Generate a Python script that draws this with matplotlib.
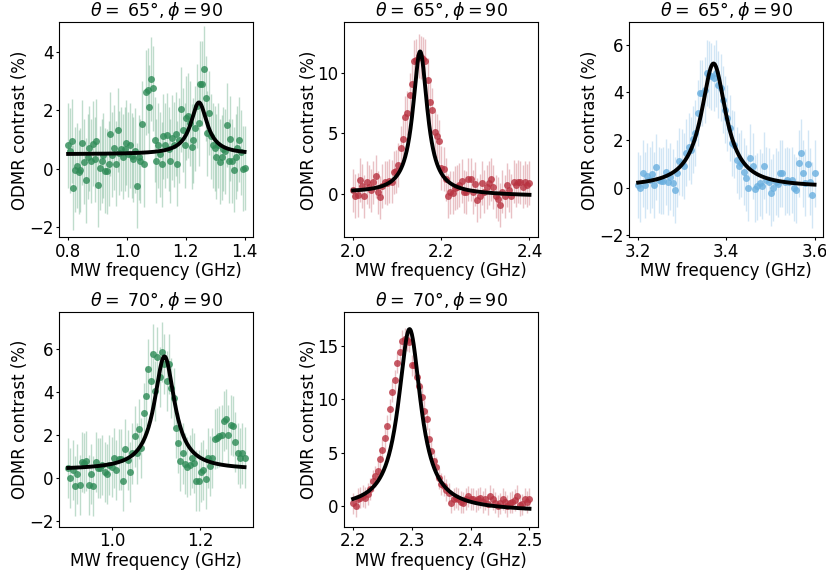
import numpy as np
import matplotlib
matplotlib.use("Agg")
import matplotlib.pyplot as plt

# ODMR spectra, contrast in %, frequency sweeps in GHz
sweeps = [(0.8, 1.4), (2.0, 2.4), (3.2, 3.6), (0.9, 1.3), (2.2, 2.5)]
thetas = [65, 65, 65, 70, 70]
phis = [90, 90, 90, 90, 90]

contrast_1 = [0.79, 0.61, 0.94, -0.66, -0.04, 0.10, -0.12, -0.05, 0.88, 0.24,
              -0.40, 0.40, 0.70, 0.26, 0.85, 0.32, 0.94, -0.56, 0.02, 0.26,
              0.45, -0.07, -0.10, 0.16, 1.18, 0.47, 0.71, 0.16, 1.32, 0.53,
              0.67, 0.40, 0.67, 0.88, 0.49, 0.79, 0.44, 0.32, 0.61, -0.59,
              0.38, 0.26, 1.53, 0.14, 2.61, 2.67, 2.10, 3.06, 2.75, 0.99,
              0.26, 0.79, 0.49, 0.14, 1.10, 0.79, 1.14, 0.67, 0.26, 1.06,
              0.81, 1.18, 0.16, 0.96, 2.02, 1.32, 0.79, 1.73, 1.81, 1.55,
              0.75, 0.96, 1.38, 2.14, 1.55, 2.90, 2.90, 3.41, 2.40, 1.20,
              1.90, 1.10, 0.79, 0.70, 0.40, 0.79, 0.24, 0.38, 0.67, 0.59,
              1.49, 0.26, 1.02, 0.26, -0.04, 0.40, 0.70, 0.99, 0.55, 0.00, 0.02]

contrast_2 = [0.28, -0.17, -0.08, 1.16, 0.66, -0.22, 0.94, 0.60, 0.28, 0.94,
              1.44, 0.11, -0.30, 0.66, 0.94, 0.90, 1.05, 1.00, 1.77, 1.85,
              2.40, 3.78, 4.53, 6.33, 6.70, 8.20, 9.10, 10.97, 11.05, 11.40,
              11.30, 11.20, 11.00, 9.45, 7.57, 6.96, 5.08, 4.80, 4.34, 2.13,
              2.04, 1.20, -0.17, 0.11, 0.10, 0.47, 0.55, 0.75, 1.05, 0.19,
              0.11, 1.20, 1.20, 0.15, 0.80, -0.50, -0.17, 0.88, 0.19, 0.55,
              0.90, 1.20, 0.55, -0.22, -0.44, -0.91, 0.19, -0.22, 0.75, 0.28,
              -0.17, 1.00, 0.75, 1.00, 0.94, 0.60, 0.94, 0.70, 0.88]

contrast_3 = [0.11, -0.03, 0.60, 0.11, 0.49, 0.32, 0.55, 0.11, 0.86, 0.32,
              0.28, 0.29, 0.66, 0.25, 0.46, 0.21, -0.10, 0.60, 1.10, 1.05,
              0.91, 1.47, 1.72, 1.56, 2.03, 2.29, 3.13, 3.97, 3.97, 4.10,
              4.81, 4.74, 4.67, 4.60, 4.80, 4.32, 4.20, 3.69, 3.27, 2.92,
              2.50, 1.87, 1.80, 1.16, 0.91, 1.02, 0.67, 0.40, 0.00, 1.25,
              0.90, -0.05, 0.05, 0.21, 0.07, 0.92, 0.32, 0.25, -0.21, 0.00,
              0.25, 0.15, 0.60, 0.60, 0.25, 0.32, 0.25, 0.32, 0.00, -0.10,
              1.02, 1.47, 0.60, 0.21, 1.00, 0.25, -0.31, 0.60]

contrast_4 = [0.46, 0.00, 0.35, -0.39, 0.16, -0.33, 0.74, 0.70, 0.77, -0.33,
              0.19, -0.39, 0.74, 0.46, 0.46, 0.58, 0.27, 0.19, 0.58, 0.50,
              0.90, 0.35, 0.85, 0.85, -0.13, 1.33, 0.82, 0.27, 1.13, 1.92,
              1.13, 2.28, 1.40, 3.01, 3.80, 5.06, 4.50, 5.76, 4.03, 5.64,
              4.69, 5.84, 5.29, 4.50, 5.29, 4.19, 3.72, 2.31, 1.60, 0.78,
              1.13, 0.66, 0.50, 0.58, 0.90, 0.70, -0.13, -0.13, 0.27, 0.35,
              -0.05, 0.90, 0.55, 0.90, 1.80, 1.84, 1.92, 2.00, 2.65, 2.73,
              2.00, 2.47, 2.39, 1.68, 1.13, 0.90, 1.13, 0.94]

contrast_5 = [0.25, 0.00, 0.69, 0.78, 0.94, 0.78, 1.10, 1.57, 2.35, 2.76,
              3.30, 4.40, 5.27, 6.34, 7.53, 9.04, 10.70, 11.77, 13.43, 14.43,
              15.44, 15.63, 15.53, 15.40, 13.18, 13.24, 12.08, 11.23, 10.20, 8.94,
              8.10, 6.28, 5.18, 4.24, 3.60, 2.57, 2.04, 1.88, 1.50, 1.19,
              0.31, 0.63, 0.78, 0.63, 0.38, 0.31, 0.63, 0.88, 0.63, 0.63,
              0.47, 0.63, 0.78, 0.38, 0.63, 0.16, 0.94, 0.63, 0.31, 0.00,
              0.25, 0.63, 0.38, 0.00, 0.31, 0.38, 0.56, 0.94, 0.06, 0.16,
              0.63, 0.38, 0.69]

contrasts = [contrast_1, contrast_2, contrast_3, contrast_4, contrast_5]
errors = [1.45, 1.8, 1.4, 1.4, 1.0]

# Lorentzian fit parameters: centre (GHz), HWHM (GHz), amplitude, offset, slope
fit_center = [1.245, 2.152, 3.371, 1.1185, 2.296]
fit_hwhm = [0.034, 0.020, 0.034, 0.028, 0.023]
fit_amp = [1.77, 11.8, 5.2, 5.28, 16.9]
fit_offset = [0.49, -0.01, 0.01, 0.37, -0.33]
fit_slope = [0.0, -0.59, 0.0, 0.0, -0.73]

colors = ['#2e8b57', '#b83240', '#6aafdf', '#2e8b57', '#b83240']
ylims = [(-2.35, 5.0), (-3.6, 14.2), (-2.09, 6.94), (-2.28, 7.73), (-1.95, 18.2)]
xticks = [[0.8, 1.0, 1.2, 1.4], [2.0, 2.2, 2.4], [3.2, 3.4, 3.6], [1.0, 1.2], [2.2, 2.3, 2.4, 2.5]]

plt.rcParams['font.size'] = 12

fig = plt.figure(figsize=(8.26, 5.71), dpi=100)
lefts = [0.0718, 0.4168, 0.7619, 0.0718, 0.4168]
bottoms = [0.5844, 0.5844, 0.5844, 0.0776, 0.0776]
w, h = 0.2349, 0.3765

for i in range(5):
    ax = fig.add_axes([lefts[i], bottoms[i], w, h])
    y = np.array(contrasts[i])
    f = np.linspace(sweeps[i][0], sweeps[i][1], len(y))
    ax.errorbar(f, y, yerr=errors[i], fmt='none', ecolor=colors[i], alpha=0.3, elinewidth=1.0)
    ax.plot(f, y, 'o', color=colors[i], alpha=0.8, markersize=5, markeredgewidth=0)

    ff = np.linspace(sweeps[i][0], sweeps[i][1], 400)
    g = fit_hwhm[i]
    fit = (fit_offset[i] + fit_slope[i] * (ff - fit_center[i])
           + fit_amp[i] * g**2 / ((ff - fit_center[i])**2 + g**2))
    ax.plot(ff, fit, color='black', linewidth=2.8)

    ax.set_ylim(ylims[i])
    ax.set_xticks(xticks[i])
    ax.tick_params(length=2, pad=2)
    ax.set_xlabel('MW frequency (GHz)', labelpad=1)
    ax.set_ylabel('ODMR contrast (%)', labelpad=0)
    ax.set_title(r'$\theta = $ ' + f'{thetas[i]}°' + r'$, \phi = ' + f'{phis[i]}$', fontsize=12.5, pad=3)

fig.savefig('out.png', dpi=100)
